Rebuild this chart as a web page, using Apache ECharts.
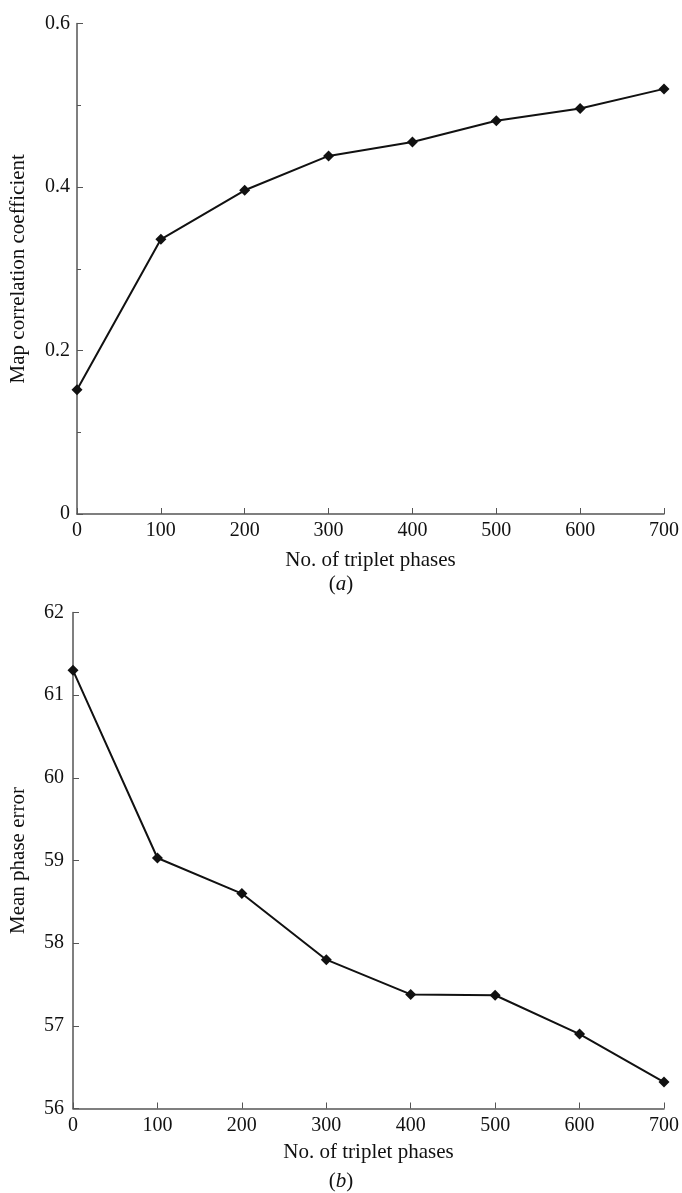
<!DOCTYPE html>
<html>
<head>
<meta charset="utf-8">
<script src="https://cdn.jsdelivr.net/npm/echarts@6/dist/echarts.min.js"></script>
<style>
html,body{margin:0;padding:0;background:#fff;}
#c{width:682px;height:1193px;}
</style>
</head>
<body>
<div id="c"></div>
<script>
const xCategories = [0, 100, 200, 300, 400, 500, 600, 700];
const mapCorrelation = [0.152, 0.336, 0.396, 0.438, 0.455, 0.481, 0.496, 0.520];
const meanPhaseError = [61.30, 59.03, 58.60, 57.80, 57.38, 57.37, 56.90, 56.32];
const xTitle = 'No. of triplet phases';
const yTitleA = 'Map correlation coefficient';
const yTitleB = 'Mean phase error';

const FONT = '"Liberation Serif", "DejaVu Serif", serif';
const AX = '#555';
const TICK_FS = 20;
const TITLE_FS = 21;
const chart = echarts.init(document.getElementById('c'));

function xAxisCfg(gridIndex, gap){
  return {
    type: 'value', gridIndex, min: 0, max: 700, interval: 100,
    name: xTitle, nameLocation: 'middle', nameGap: gap,
    nameTextStyle: {fontFamily: FONT, fontSize: TITLE_FS, color: '#111'},
    axisLine: {show: true, onZero: false, lineStyle: {color: AX, width: 1.5}},
    axisTick: {show: true, inside: true, length: 6, lineStyle: {color: AX, width: 1}},
    axisLabel: {fontFamily: FONT, fontSize: TICK_FS, color: '#111', margin: 7},
    splitLine: {show: false}
  };
}

const option = {
  animation: false,
  backgroundColor: '#fff',
  grid: [
    {left: 76, right: 16, top: 23.5, height: 490.5},
    {left: 70, right: 16, top: 612.5, height: 496}
  ],
  xAxis: [xAxisCfg(0, 36), xAxisCfg(1, 33)],
  yAxis: [
    {
      type: 'value', gridIndex: 0, min: 0, max: 0.6, interval: 0.2,
      name: yTitleA, nameLocation: 'middle', nameGap: 48,
      nameTextStyle: {fontFamily: FONT, fontSize: TITLE_FS, color: '#111'},
      axisLine: {show: true, lineStyle: {color: AX, width: 1.5}},
      axisTick: {show: true, inside: true, length: 6, lineStyle: {color: AX, width: 1}},
      minorTick: {show: true, splitNumber: 2, length: 4, lineStyle: {color: AX, width: 1}},
      axisLabel: {fontFamily: FONT, fontSize: TICK_FS, color: '#111', margin: 7,
        formatter: v => (v === 0 ? '0' : v.toFixed(1))},
      splitLine: {show: false}
    },
    {
      type: 'value', gridIndex: 1, min: 56, max: 62, interval: 1,
      name: yTitleB, nameLocation: 'middle', nameGap: 44,
      nameTextStyle: {fontFamily: FONT, fontSize: TITLE_FS, color: '#111'},
      axisLine: {show: true, lineStyle: {color: AX, width: 1.5}},
      axisTick: {show: true, inside: true, length: 6, lineStyle: {color: AX, width: 1}},
      axisLabel: {fontFamily: FONT, fontSize: TICK_FS, color: '#111', margin: 9},
      splitLine: {show: false}
    }
  ],
  series: [
    {
      type: 'line', xAxisIndex: 0, yAxisIndex: 0,
      data: xCategories.map((x, i) => [x, mapCorrelation[i]]),
      symbol: 'diamond', symbolSize: 11,
      lineStyle: {color: '#111', width: 2},
      itemStyle: {color: '#111'},
      clip: false
    },
    {
      type: 'line', xAxisIndex: 1, yAxisIndex: 1,
      data: xCategories.map((x, i) => [x, meanPhaseError[i]]),
      symbol: 'diamond', symbolSize: 11,
      lineStyle: {color: '#111', width: 2},
      itemStyle: {color: '#111'},
      clip: false
    }
  ],
  graphic: [
    {type: 'text', left: 'center', top: 574, style: {
      text: '({i|a})', fontFamily: FONT, fontSize: TITLE_FS, fill: '#111',
      rich: {i: {fontFamily: FONT, fontSize: TITLE_FS, fontStyle: 'italic', color: '#111'}}
    }},
    {type: 'text', left: 'center', top: 1171, style: {
      text: '({i|b})', fontFamily: FONT, fontSize: TITLE_FS, fill: '#111',
      rich: {i: {fontFamily: FONT, fontSize: TITLE_FS, fontStyle: 'italic', color: '#111'}}
    }}
  ]
};
chart.setOption(option);
</script>
</body>
</html>
